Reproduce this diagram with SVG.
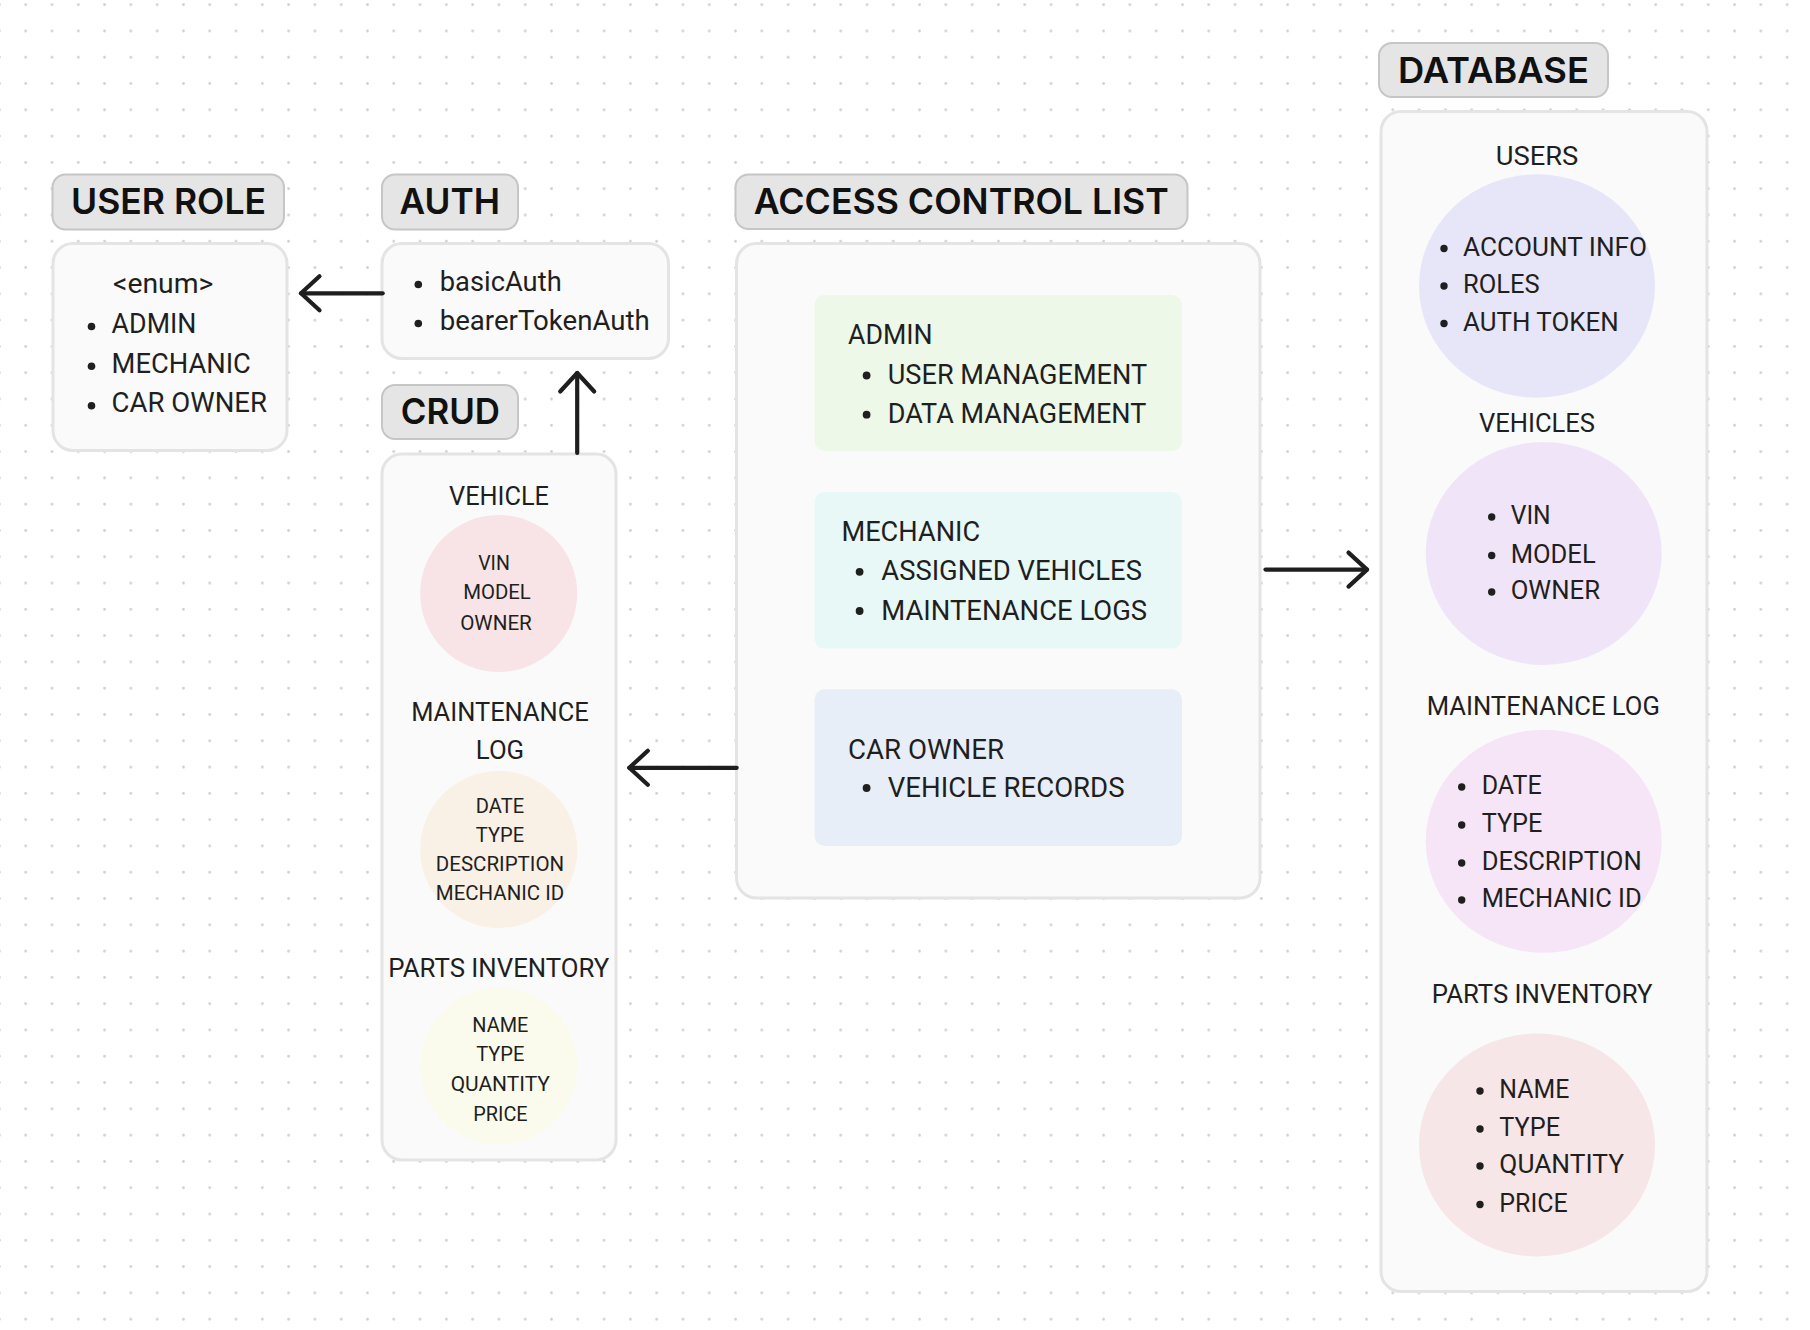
<svg xmlns="http://www.w3.org/2000/svg" width="1810" height="1330" viewBox="0 0 1810 1330">
<defs>
<pattern id="dots" x="12.555" y="-8.445" width="26.29" height="26.29" patternUnits="userSpaceOnUse">
<circle cx="13.145" cy="13.145" r="1.4" fill="#d0d0d0"/>
</pattern>
<marker id="chev" markerUnits="userSpaceOnUse" viewBox="-25 -25 50 50" markerWidth="50" markerHeight="50" refX="0" refY="0" orient="auto">
<path d="M-18.5 -17 L0 0 L-18.5 17" fill="none" stroke="#1e1e1e" stroke-width="4.2" stroke-linecap="round" stroke-linejoin="round"/>
</marker>
<style>
.hl{fill:#e5e5e5;stroke:#c6c6c6;stroke-width:2}
.ht{font-family:Inter,Roboto,"Liberation Sans",sans-serif;font-weight:600;font-size:36px;fill:#111111}
.box{fill:#fafafa;stroke:#e4e4e4;stroke-width:3}
.t{font-family:Roboto,"Liberation Sans",sans-serif;font-weight:400;fill:#1f1f1f}
.s27{font-size:27px}
.s25{font-size:25.5px}
.s20{font-size:20.5px}
.m{text-anchor:middle}
.b{fill:#1f1f1f}
.conn{fill:none;stroke:#1e1e1e;stroke-width:4.2;stroke-linecap:round;marker-end:url(#chev)}
</style>
</defs>
<rect x="0" y="0" width="1810" height="1330" fill="#ffffff"/>
<rect x="0" y="0" width="1810" height="1330" fill="url(#dots)"/>

<g id="user-role">
<rect class="hl" x="52.5" y="174.5" width="231.5" height="55" rx="13"/>
<text class="ht" x="71" y="214.3" textLength="195" lengthAdjust="spacingAndGlyphs">USER ROLE</text>
<rect class="box" x="53" y="243.5" width="234" height="207" rx="20"/>
<text class="t s27" x="113" y="293" textLength="100.4" lengthAdjust="spacingAndGlyphs">&lt;enum&gt;</text>
<circle class="b" cx="91.5" cy="326.5" r="3.8"/>
<circle class="b" cx="91.5" cy="366.2" r="3.8"/>
<circle class="b" cx="91.5" cy="405.8" r="3.8"/>
<text class="t s27" x="111.6" y="333" textLength="84.8" lengthAdjust="spacingAndGlyphs">ADMIN</text>
<text class="t s27" x="111.6" y="372.7" textLength="139.3" lengthAdjust="spacingAndGlyphs">MECHANIC</text>
<text class="t s27" x="111.6" y="412.3" textLength="155.4" lengthAdjust="spacingAndGlyphs">CAR OWNER</text>
</g>

<g id="auth">
<rect class="hl" x="382" y="174.5" width="136" height="55" rx="13"/>
<text class="ht" x="399.6" y="214.3" textLength="100.4" lengthAdjust="spacingAndGlyphs">AUTH</text>
<rect class="box" x="382" y="243.5" width="286.5" height="115" rx="20"/>
<circle class="b" cx="418.3" cy="284.5" r="3.8"/>
<circle class="b" cx="418.3" cy="323.5" r="3.8"/>
<text class="t s27" x="439.7" y="291" textLength="122" lengthAdjust="spacingAndGlyphs">basicAuth</text>
<text class="t s27" x="439.7" y="330" textLength="210" lengthAdjust="spacingAndGlyphs">bearerTokenAuth</text>
</g>

<g id="crud">
<rect class="hl" x="382" y="385" width="136" height="54" rx="13"/>
<text class="ht" x="400.7" y="424.3" textLength="99.3" lengthAdjust="spacingAndGlyphs">CRUD</text>
<rect class="box" x="382" y="454" width="234" height="706" rx="20"/>
<text class="t s25 m" x="499" y="505" textLength="100" lengthAdjust="spacingAndGlyphs">VEHICLE</text>
<circle cx="498.7" cy="593.5" r="78.5" fill="#f8e4e6"/>
<text class="t s20 m" x="494" y="570.3" textLength="31.7" lengthAdjust="spacingAndGlyphs">VIN</text>
<text class="t s20 m" x="497" y="599.4" textLength="67.7" lengthAdjust="spacingAndGlyphs">MODEL</text>
<text class="t s20 m" x="496" y="630" textLength="71.7" lengthAdjust="spacingAndGlyphs">OWNER</text>
<text class="t s25 m" x="500" y="720.8" textLength="177.7" lengthAdjust="spacingAndGlyphs">MAINTENANCE</text>
<text class="t s25 m" x="500" y="758.6" textLength="48.3" lengthAdjust="spacingAndGlyphs">LOG</text>
<circle cx="498.7" cy="849.4" r="78.5" fill="#f9f0e6"/>
<text class="t s20 m" x="500" y="812.7" textLength="48.3" lengthAdjust="spacingAndGlyphs">DATE</text>
<text class="t s20 m" x="500" y="842.2" textLength="48.3" lengthAdjust="spacingAndGlyphs">TYPE</text>
<text class="t s20 m" x="500" y="871.3" textLength="128.3" lengthAdjust="spacingAndGlyphs">DESCRIPTION</text>
<text class="t s20 m" x="500" y="900.4" textLength="128.3" lengthAdjust="spacingAndGlyphs">MECHANIC ID</text>
<text class="t s25 m" x="498.8" y="977" textLength="221" lengthAdjust="spacingAndGlyphs">PARTS INVENTORY</text>
<circle cx="498.7" cy="1066" r="78.5" fill="#fafbec"/>
<text class="t s20 m" x="500.3" y="1031.5" textLength="56" lengthAdjust="spacingAndGlyphs">NAME</text>
<text class="t s20 m" x="500.3" y="1061" textLength="48.3" lengthAdjust="spacingAndGlyphs">TYPE</text>
<text class="t s20 m" x="500.3" y="1090.7" textLength="99.3" lengthAdjust="spacingAndGlyphs">QUANTITY</text>
<text class="t s20 m" x="500.5" y="1120.6" textLength="54.3" lengthAdjust="spacingAndGlyphs">PRICE</text>
</g>

<g id="access-control-list">
<rect class="hl" x="735.5" y="174.5" width="452" height="54.5" rx="13"/>
<text class="ht" x="753.8" y="214.3" textLength="415" lengthAdjust="spacingAndGlyphs">ACCESS CONTROL LIST</text>
<rect class="box" x="736.5" y="243.5" width="523.5" height="654.5" rx="20"/>
<rect x="814.5" y="295" width="367.5" height="156" rx="10" fill="#edf8e8"/>
<text class="t s27" x="848" y="344.2" textLength="84.6" lengthAdjust="spacingAndGlyphs">ADMIN</text>
<circle class="b" cx="866.6" cy="375.5" r="3.9"/>
<circle class="b" cx="866.6" cy="414.7" r="3.9"/>
<text class="t s27" x="887.8" y="384" textLength="259.3" lengthAdjust="spacingAndGlyphs">USER MANAGEMENT</text>
<text class="t s27" x="887.8" y="423.2" textLength="258.5" lengthAdjust="spacingAndGlyphs">DATA MANAGEMENT</text>
<rect x="814.5" y="492" width="367.5" height="156.6" rx="10" fill="#e8f8f7"/>
<text class="t s27" x="841.4" y="540.5" textLength="138.8" lengthAdjust="spacingAndGlyphs">MECHANIC</text>
<circle class="b" cx="859.6" cy="571.8" r="3.9"/>
<circle class="b" cx="859.6" cy="611" r="3.9"/>
<text class="t s27" x="881.3" y="580.3" textLength="260.6" lengthAdjust="spacingAndGlyphs">ASSIGNED VEHICLES</text>
<text class="t s27" x="881.3" y="619.5" textLength="265.8" lengthAdjust="spacingAndGlyphs">MAINTENANCE LOGS</text>
<rect x="814.5" y="689.3" width="367.5" height="156.7" rx="10" fill="#e8eef8"/>
<text class="t s27" x="848" y="758.6" textLength="156.1" lengthAdjust="spacingAndGlyphs">CAR OWNER</text>
<circle class="b" cx="866.6" cy="788" r="3.9"/>
<text class="t s27" x="887.8" y="796.5" textLength="236.8" lengthAdjust="spacingAndGlyphs">VEHICLE RECORDS</text>
</g>

<g id="database">
<rect class="hl" x="1379" y="43" width="229" height="54" rx="13"/>
<text class="ht" x="1398" y="83" textLength="191" lengthAdjust="spacingAndGlyphs">DATABASE</text>
<rect class="box" x="1381" y="111.5" width="326" height="1180" rx="20"/>
<text class="t s25 m" x="1537" y="165" textLength="82.7" lengthAdjust="spacingAndGlyphs">USERS</text>
<ellipse cx="1537" cy="286" rx="118" ry="111.7" fill="#e7e6f9"/>
<circle class="b" cx="1444" cy="248.5" r="3.7"/>
<circle class="b" cx="1444" cy="286" r="3.7"/>
<circle class="b" cx="1444" cy="323.5" r="3.7"/>
<text class="t s25" x="1463" y="255.5" textLength="184" lengthAdjust="spacingAndGlyphs">ACCOUNT INFO</text>
<text class="t s25" x="1463" y="293" textLength="76.7" lengthAdjust="spacingAndGlyphs">ROLES</text>
<text class="t s25" x="1463" y="330.5" textLength="155.7" lengthAdjust="spacingAndGlyphs">AUTH TOKEN</text>
<text class="t s25 m" x="1537" y="432" textLength="116" lengthAdjust="spacingAndGlyphs">VEHICLES</text>
<ellipse cx="1543.7" cy="553.5" rx="118" ry="111.5" fill="#f0e5f8"/>
<circle class="b" cx="1491.7" cy="517" r="3.7"/>
<circle class="b" cx="1491.7" cy="555.5" r="3.7"/>
<circle class="b" cx="1491.7" cy="592" r="3.7"/>
<text class="t s25" x="1510.7" y="524" textLength="40" lengthAdjust="spacingAndGlyphs">VIN</text>
<text class="t s25" x="1510.7" y="562.5" textLength="85" lengthAdjust="spacingAndGlyphs">MODEL</text>
<text class="t s25" x="1510.7" y="599" textLength="89.3" lengthAdjust="spacingAndGlyphs">OWNER</text>
<text class="t s25 m" x="1543.3" y="715" textLength="233.3" lengthAdjust="spacingAndGlyphs">MAINTENANCE LOG</text>
<ellipse cx="1543.7" cy="841.3" rx="118" ry="111.5" fill="#f6e5f6"/>
<circle class="b" cx="1461.7" cy="787" r="3.7"/>
<circle class="b" cx="1461.7" cy="825" r="3.7"/>
<circle class="b" cx="1461.7" cy="863" r="3.7"/>
<circle class="b" cx="1461.7" cy="900" r="3.7"/>
<text class="t s25" x="1481.7" y="794" textLength="60" lengthAdjust="spacingAndGlyphs">DATE</text>
<text class="t s25" x="1481.7" y="832" textLength="60.7" lengthAdjust="spacingAndGlyphs">TYPE</text>
<text class="t s25" x="1481.7" y="870" textLength="160" lengthAdjust="spacingAndGlyphs">DESCRIPTION</text>
<text class="t s25" x="1481.7" y="907" textLength="160" lengthAdjust="spacingAndGlyphs">MECHANIC ID</text>
<text class="t s25 m" x="1542" y="1002.5" textLength="220.7" lengthAdjust="spacingAndGlyphs">PARTS INVENTORY</text>
<ellipse cx="1537" cy="1145" rx="118" ry="111.4" fill="#f7e6e8"/>
<circle class="b" cx="1480" cy="1091" r="3.7"/>
<circle class="b" cx="1480" cy="1129" r="3.7"/>
<circle class="b" cx="1480" cy="1166" r="3.7"/>
<circle class="b" cx="1480" cy="1204.5" r="3.7"/>
<text class="t s25" x="1499.3" y="1098" textLength="70" lengthAdjust="spacingAndGlyphs">NAME</text>
<text class="t s25" x="1499.3" y="1136" textLength="60.7" lengthAdjust="spacingAndGlyphs">TYPE</text>
<text class="t s25" x="1499.3" y="1173" textLength="124.7" lengthAdjust="spacingAndGlyphs">QUANTITY</text>
<text class="t s25" x="1499.3" y="1211.5" textLength="68.3" lengthAdjust="spacingAndGlyphs">PRICE</text>
</g>

<g id="connectors">
<path class="conn" d="M382.7 293.3 H301"/>
<path class="conn" d="M577.2 453 V373"/>
<path class="conn" d="M736.7 767.8 H629.3"/>
<path class="conn" d="M1265.5 569.6 H1367"/>
</g>
</svg>
